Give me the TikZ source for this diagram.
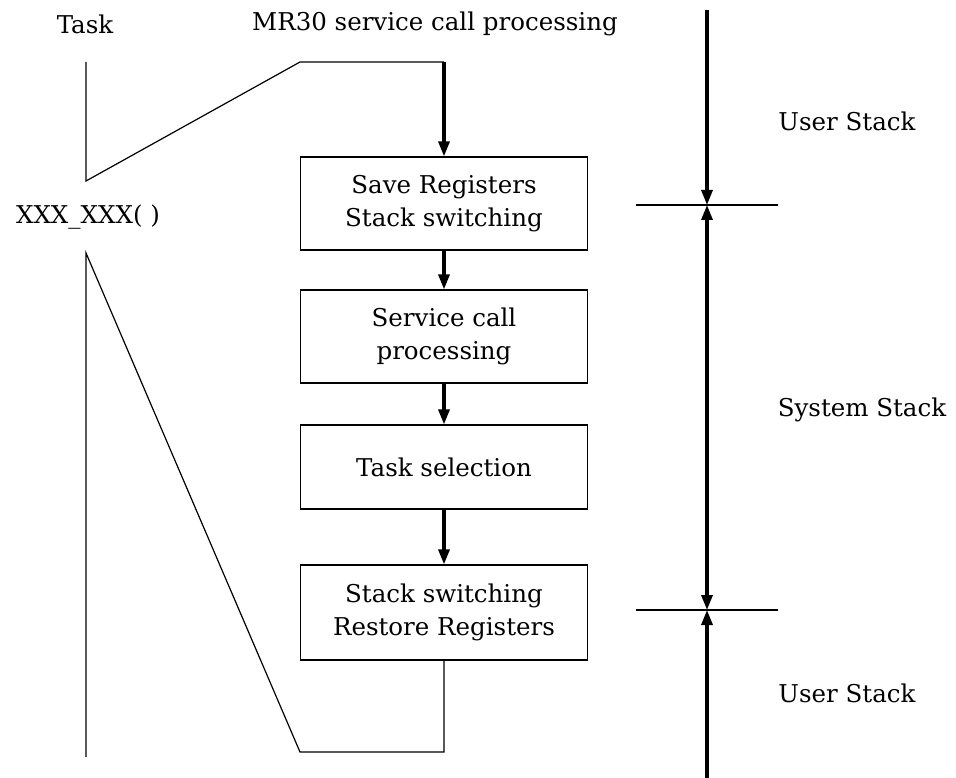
\documentclass[tikz,border=0pt]{standalone}
\usepackage{fontspec}
\setmainfont{DejaVu Serif}
\usetikzlibrary{arrows.meta,positioning}

\begin{document}
\begin{tikzpicture}[
  x=1pt,y=-1pt,
  every node/.style={font=\fontsize{24.5}{33}\selectfont},
  stepbox/.style={draw,line width=1.2pt,minimum width=287pt,align=center,inner sep=0pt},
  flow/.style={line width=1.2pt},
  stackline/.style={line width=3.2pt,-{Triangle[length=15pt,width=11pt]}},
  stacktip/.style={line width=3.2pt,{Triangle[length=15pt,width=11pt]}-{Triangle[length=15pt,width=11pt]}},
  ]
  \useasboundingbox (0,0) rectangle (956,778);
  % headings
  \node (task) at (85,24) {Task};
  \node (mr30) at (435,24) {MR30 service call processing};
  \node (call) at (88,217) {XXX\_XXX( )};
  % processing steps
  \node[stepbox,minimum height=93pt] (save)   at (444,203.5) {Save Registers\\Stack switching};
  \node[stepbox,minimum height=93pt] (serv)   at (444,336.5) {Service call\\processing};
  \node[stepbox,minimum height=84pt] (select) at (444,467)   {Task selection};
  \node[stepbox,minimum height=95pt] (rest)   at (444,612.5) {Stack switching\\Restore Registers};
  \coordinate (taskTop) at (86,62);
  \coordinate (taskA)   at (86,181);
  \coordinate (enterA)  at (300,62);
  \coordinate (enterB)  at (444,62);
  \coordinate (taskB)   at (86,253);
  \coordinate (taskEnd) at (86,757);
  \coordinate (leaveA)  at (300,752);
  \coordinate (leaveB)  at (444,752);
  \draw[flow] (taskTop) -- (taskA) -- (enterA) -- (enterB);
  \draw[flow] (taskEnd) -- (taskB) -- (leaveA) -- (leaveB) -- (rest.south);
  \draw[stackline] (enterB) -- (save.north);
  \draw[stackline] (save) -- (serv);
  \draw[stackline] (serv) -- (select);
  \draw[stackline] (select) -- (rest);
  % stacks
  \coordinate (stackTop) at (707,10);
  \coordinate (sysTop)   at (707,205);
  \coordinate (sysBot)   at (707,610);
  \coordinate (stackBot) at (707,778);
  \draw[flow] (636,205) -- (778,205);
  \draw[flow] (636,610) -- (778,610);
  \draw[stackline] (stackTop) -- (sysTop);
  \draw[stacktip] (sysTop) -- (sysBot);
  \draw[stackline] (stackBot) -- (sysBot);
  \node (user1) at (847,121) {User Stack};
  \node (sys)   at (862,410) {System Stack};
  \node (user2) at (847,693) {User Stack};
\end{tikzpicture}
\end{document}
